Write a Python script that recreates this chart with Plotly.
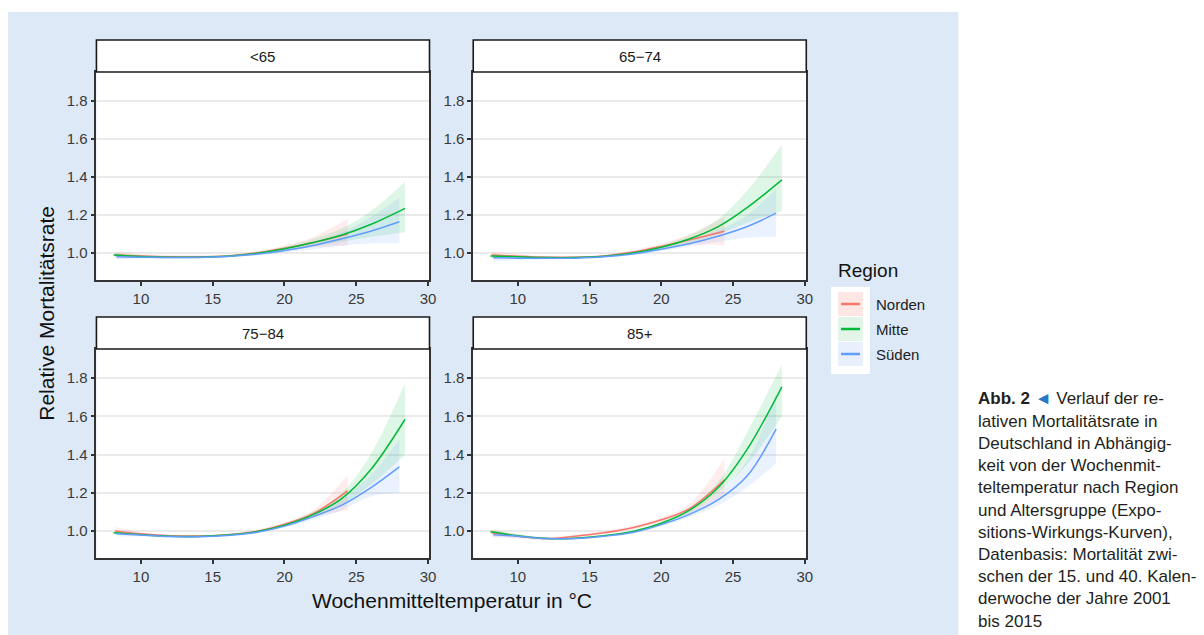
import plotly.graph_objects as go

# ---------------- data ----------------
AGE_GROUPS = ["<65", "65−74", "75−84", "85+"]
REGIONS = ["Norden", "Mitte", "Süden"]
COLORS = {"Norden": "#F8766D", "Mitte": "#00BA38", "Süden": "#619CFF"}
FILLS = {"Norden": "rgba(248,118,109,0.13)", "Mitte": "rgba(0,186,56,0.13)", "Süden": "rgba(97,156,255,0.13)"}

T_NORDEN = [8.2, 10, 12, 14, 16, 18, 20, 22, 24.4]
T_MITTE = [8.1, 10, 12, 14, 16, 18, 20, 22, 24, 26, 28.4]
T_SUEDEN = [8.3, 10, 12, 14, 16, 18, 20, 22, 24, 26, 28.0]

# <65
U65_NORDEN_FIT = [0.99, 0.985, 0.98, 0.98, 0.985, 1.0, 1.025, 1.055, 1.10]
U65_NORDEN_LO = [0.97, 0.975, 0.975, 0.975, 0.98, 0.99, 1.01, 1.03, 1.04]
U65_NORDEN_HI = [1.01, 0.995, 0.99, 0.99, 0.99, 1.01, 1.04, 1.085, 1.18]
U65_MITTE_FIT = [0.99, 0.982, 0.978, 0.978, 0.983, 0.997, 1.022, 1.055, 1.095, 1.15, 1.235]
U65_MITTE_LO = [0.98, 0.975, 0.972, 0.973, 0.978, 0.99, 1.01, 1.035, 1.06, 1.085, 1.11]
U65_MITTE_HI = [1.0, 0.99, 0.985, 0.985, 0.99, 1.005, 1.035, 1.075, 1.13, 1.22, 1.375]
U65_SUEDEN_FIT = [0.98, 0.978, 0.976, 0.977, 0.982, 0.993, 1.013, 1.04, 1.075, 1.115, 1.165]
U65_SUEDEN_LO = [0.965, 0.97, 0.97, 0.972, 0.977, 0.987, 1.003, 1.02, 1.04, 1.05, 1.05]
U65_SUEDEN_HI = [0.995, 0.986, 0.982, 0.982, 0.987, 1.0, 1.023, 1.06, 1.11, 1.19, 1.29]

# 65-74
A65_NORDEN_FIT = [0.99, 0.983, 0.978, 0.978, 0.985, 1.005, 1.035, 1.07, 1.115]
A65_NORDEN_LO = [0.97, 0.972, 0.972, 0.973, 0.98, 0.995, 1.02, 1.045, 1.04]
A65_NORDEN_HI = [1.01, 0.994, 0.984, 0.983, 0.99, 1.015, 1.05, 1.10, 1.19]
A65_MITTE_FIT = [0.985, 0.98, 0.976, 0.976, 0.983, 1.0, 1.03, 1.075, 1.14, 1.24, 1.385]
A65_MITTE_LO = [0.975, 0.973, 0.97, 0.971, 0.978, 0.993, 1.018, 1.055, 1.10, 1.16, 1.22]
A65_MITTE_HI = [0.995, 0.987, 0.982, 0.981, 0.988, 1.007, 1.042, 1.095, 1.18, 1.33, 1.57]
A65_SUEDEN_FIT = [0.975, 0.973, 0.972, 0.973, 0.98, 0.995, 1.02, 1.05, 1.09, 1.14, 1.21]
A65_SUEDEN_LO = [0.955, 0.963, 0.967, 0.969, 0.976, 0.99, 1.012, 1.035, 1.06, 1.08, 1.085]
A65_SUEDEN_HI = [0.995, 0.983, 0.977, 0.977, 0.984, 1.0, 1.028, 1.065, 1.12, 1.20, 1.34]

# 75-84
A75_NORDEN_FIT = [1.0, 0.985, 0.975, 0.973, 0.98, 0.997, 1.035, 1.09, 1.21]
A75_NORDEN_LO = [0.985, 0.977, 0.97, 0.968, 0.975, 0.99, 1.025, 1.07, 1.11]
A75_NORDEN_HI = [1.02, 0.993, 0.98, 0.978, 0.985, 1.005, 1.045, 1.11, 1.29]
A75_MITTE_FIT = [0.99, 0.98, 0.972, 0.971, 0.978, 0.995, 1.03, 1.085, 1.17, 1.32, 1.585]
A75_MITTE_LO = [0.98, 0.974, 0.967, 0.967, 0.974, 0.99, 1.022, 1.07, 1.14, 1.24, 1.40]
A75_MITTE_HI = [1.0, 0.986, 0.977, 0.975, 0.982, 1.0, 1.038, 1.10, 1.20, 1.40, 1.775]
A75_SUEDEN_FIT = [0.985, 0.978, 0.97, 0.969, 0.976, 0.992, 1.025, 1.075, 1.135, 1.225, 1.335]
A75_SUEDEN_LO = [0.97, 0.97, 0.965, 0.965, 0.972, 0.987, 1.018, 1.06, 1.11, 1.18, 1.20]
A75_SUEDEN_HI = [1.0, 0.986, 0.975, 0.973, 0.98, 0.997, 1.032, 1.09, 1.17, 1.29, 1.48]

# 85+
A85_NORDEN_FIT = [0.99, 0.972, 0.96, 0.972, 0.99, 1.017, 1.058, 1.118, 1.268]
A85_NORDEN_LO = [0.97, 0.962, 0.952, 0.964, 0.982, 1.007, 1.045, 1.093, 1.19]
A85_NORDEN_HI = [1.01, 0.982, 0.968, 0.98, 0.998, 1.027, 1.07, 1.143, 1.38]
A85_MITTE_FIT = [0.995, 0.975, 0.96, 0.962, 0.975, 0.997, 1.04, 1.11, 1.23, 1.43, 1.755]
A85_MITTE_LO = [0.985, 0.968, 0.955, 0.958, 0.97, 0.99, 1.032, 1.095, 1.20, 1.35, 1.60]
A85_MITTE_HI = [1.005, 0.982, 0.965, 0.966, 0.98, 1.004, 1.048, 1.125, 1.26, 1.52, 1.87]
A85_SUEDEN_FIT = [0.98, 0.972, 0.96, 0.96, 0.972, 0.992, 1.033, 1.088, 1.165, 1.29, 1.535]
A85_SUEDEN_LO = [0.965, 0.964, 0.955, 0.956, 0.968, 0.986, 1.026, 1.073, 1.135, 1.23, 1.355]
A85_SUEDEN_HI = [0.995, 0.98, 0.965, 0.965, 0.977, 0.998, 1.041, 1.103, 1.195, 1.37, 1.72]

Y_TICKS = [1.0, 1.2, 1.4, 1.6, 1.8]
X_TICKS = [10, 15, 20, 25, 30]

CAPTION_LINES = [
    "<b>Abb. 2</b> <span style='color:#2a76c6'>◄</span> Verlauf der re-",
    "lativen Mortalitätsrate in",
    "Deutschland in Abhängig-",
    "keit von der Wochenmit-",
    "teltemperatur nach Region",
    "und Altersgruppe (Expo-",
    "sitions-Wirkungs-Kurven),",
    "Datenbasis: Mortalität zwi-",
    "schen der 15. und 40. Kalen-",
    "derwoche der Jahre 2001",
    "bis 2015",
]

PANELS = {
    "<65": {"Norden": (U65_NORDEN_FIT, U65_NORDEN_LO, U65_NORDEN_HI),
            "Mitte": (U65_MITTE_FIT, U65_MITTE_LO, U65_MITTE_HI),
            "Süden": (U65_SUEDEN_FIT, U65_SUEDEN_LO, U65_SUEDEN_HI)},
    "65−74": {"Norden": (A65_NORDEN_FIT, A65_NORDEN_LO, A65_NORDEN_HI),
              "Mitte": (A65_MITTE_FIT, A65_MITTE_LO, A65_MITTE_HI),
              "Süden": (A65_SUEDEN_FIT, A65_SUEDEN_LO, A65_SUEDEN_HI)},
    "75−84": {"Norden": (A75_NORDEN_FIT, A75_NORDEN_LO, A75_NORDEN_HI),
              "Mitte": (A75_MITTE_FIT, A75_MITTE_LO, A75_MITTE_HI),
              "Süden": (A75_SUEDEN_FIT, A75_SUEDEN_LO, A75_SUEDEN_HI)},
    "85+": {"Norden": (A85_NORDEN_FIT, A85_NORDEN_LO, A85_NORDEN_HI),
            "Mitte": (A85_MITTE_FIT, A85_MITTE_LO, A85_MITTE_HI),
            "Süden": (A85_SUEDEN_FIT, A85_SUEDEN_LO, A85_SUEDEN_HI)},
}
TEMPS = {"Norden": T_NORDEN, "Mitte": T_MITTE, "Süden": T_SUEDEN}

# ---------------- layout helpers ----------------
W, H = 1204, 635
FONT = "Liberation Sans, Arial, sans-serif"


def px(x):
    return x / W


def py(y):
    return 1 - y / H


COLS = [(97, 432), (476, 811)]
ROWS = [(72, 280, 40), (349, 558, 317)]  # plot top, plot bottom, strip top

fig = go.Figure()

axis_ids = ["", "2", "3", "4"]
shapes = []
annotations = []
SMOOTH = 1.0

# light blue page background
shapes.append(dict(type="rect", xref="paper", yref="paper", x0=px(8), x1=px(964), y0=0, y1=py(12),
                   fillcolor="#dde9f7", line=dict(width=0), layer="below"))

for i, age in enumerate(AGE_GROUPS):
    r, c = divmod(i, 2)
    x0, x1 = COLS[c]
    top, bottom, stop = ROWS[r]
    aid = axis_ids[i]
    xa = "x" + aid
    ya = "y" + aid
    # white panel background
    shapes.append(dict(type="rect", xref="paper", yref="paper", x0=px(x0), x1=px(x1), y0=py(bottom), y1=py(top),
                       fillcolor="white", line=dict(width=0), layer="below"))
    # strip
    shapes.append(dict(type="rect", xref="paper", yref="paper", x0=px(x0), x1=px(x1), y0=py(top), y1=py(stop),
                       fillcolor="white", line=dict(color="#1a1a1a", width=1.6), layer="above"))
    annotations.append(dict(xref="paper", yref="paper", x=px((x0 + x1) / 2), y=py((top + stop) / 2),
                            text=age.replace("<", "&lt;"), showarrow=False,
                            font=dict(family=FONT, size=15, color="#1a1a1a"),
                            xanchor="center", yanchor="middle"))
    # ribbons
    for reg in REGIONS:
        fit, lo, hi = PANELS[age][reg]
        t = TEMPS[reg]
        fig.add_trace(go.Scatter(x=t, y=hi, mode="lines", line=dict(width=0, shape="spline", smoothing=SMOOTH),
                                 xaxis=xa, yaxis=ya, showlegend=False, hoverinfo="skip"))
        fig.add_trace(go.Scatter(x=t, y=lo, mode="lines", line=dict(width=0, shape="spline", smoothing=SMOOTH),
                                 fill="tonexty", fillcolor=FILLS[reg],
                                 xaxis=xa, yaxis=ya, showlegend=False, hoverinfo="skip"))
    # lines
    for reg in REGIONS:
        fit, lo, hi = PANELS[age][reg]
        fig.add_trace(go.Scatter(x=TEMPS[reg], y=fit, mode="lines", name=reg,
                                 line=dict(color=COLORS[reg], width=1.5, shape="spline", smoothing=SMOOTH),
                                 xaxis=xa, yaxis=ya, showlegend=False))

    axis_common = dict(showline=True, mirror=True, linecolor="#333333", linewidth=1.6,
                       ticks="outside", ticklen=4, tickwidth=2, tickcolor="#333333",
                       tickfont=dict(family=FONT, size=15, color="#3a3a3a"), zeroline=False)
    fig.update_layout(**{
        "xaxis" + aid: dict(domain=[px(x0), px(x1)], range=[6.9, 30.1], tickvals=X_TICKS,
                            showgrid=False, anchor="y" + aid, **axis_common),
        "yaxis" + aid: dict(domain=[py(bottom), py(top)], range=[0.858, 1.953], tickvals=Y_TICKS,
                            tickformat=".1f", showgrid=True, gridcolor="#ebebeb", gridwidth=2.2,
                            anchor="x" + aid, **axis_common),
    })

# axis titles
annotations.append(dict(xref="paper", yref="paper", x=px(455), y=py(600), text="Wochenmitteltemperatur in °C",
                        showarrow=False, font=dict(family=FONT, size=21, color="#111111"),
                        xanchor="center", yanchor="middle"))
annotations.append(dict(xref="paper", yref="paper", x=px(47), y=py(313), text="Relative Mortalitätsrate",
                        showarrow=False, textangle=-90, font=dict(family=FONT, size=21, color="#111111"),
                        xanchor="center", yanchor="middle"))

# legend (manual)
annotations.append(dict(xref="paper", yref="paper", x=px(841), y=py(270), text="Region", showarrow=False,
                        font=dict(family=FONT, size=19, color="#111111"), xanchor="left", yanchor="middle"))
shapes.append(dict(type="rect", xref="paper", yref="paper", x0=px(836), x1=px(875), y0=py(374), y1=py(287),
                   fillcolor="white", line=dict(width=0), layer="below"))
key_fill = {"Norden": "#fde6e4", "Mitte": "#e3f5e8", "Süden": "#e8f0fe"}
for k, reg in enumerate(REGIONS):
    cy = 304 + 25 * k
    shapes.append(dict(type="rect", xref="paper", yref="paper", x0=px(843), x1=px(868), y0=py(cy + 12),
                       y1=py(cy - 12), fillcolor=key_fill[reg], line=dict(width=0), layer="below"))
    shapes.append(dict(type="line", xref="paper", yref="paper", x0=px(846), x1=px(865), y0=py(cy), y1=py(cy),
                       line=dict(color=COLORS[reg], width=2.5)))
    annotations.append(dict(xref="paper", yref="paper", x=px(879), y=py(cy), text=reg, showarrow=False,
                            font=dict(family=FONT, size=15, color="#222222"), xanchor="left", yanchor="middle"))

# caption
for k, line in enumerate(CAPTION_LINES):
    annotations.append(dict(xref="paper", yref="paper", x=px(982), y=py(399 + 22.2 * k), text=line,
                            showarrow=False, font=dict(family=FONT, size=17, color="#231f20"),
                            xanchor="left", yanchor="middle"))

fig.update_layout(width=W, height=H, margin=dict(l=0, r=0, t=0, b=0),
                  paper_bgcolor="white", plot_bgcolor="white", showlegend=False,
                  shapes=shapes, annotations=annotations)

fig.write_html("out.html")
